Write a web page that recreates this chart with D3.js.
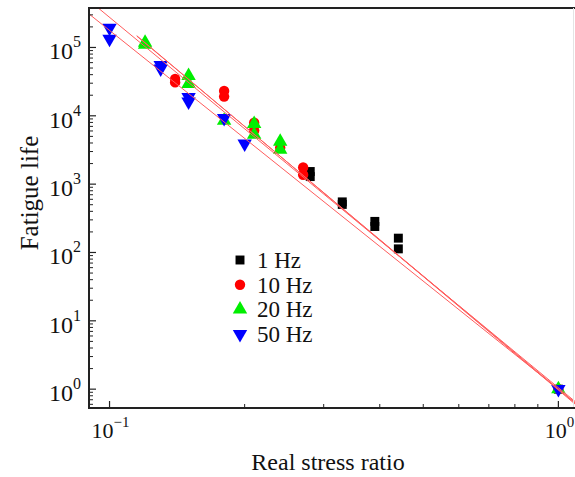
<!DOCTYPE html>
<html>
<head>
<meta charset="utf-8">
<script src="https://cdn.jsdelivr.net/npm/d3@7"></script>
<style>
  body { margin: 0; background: #fff; }
  text { font-family: "Liberation Serif", "Times New Roman", serif; fill: #111; }
</style>
</head>
<body>
<svg width="575" height="477"></svg>
<script>
// data
var stress1  = [0.28, 0.28, 0.33, 0.33, 0.39, 0.39, 0.44, 0.44, 1.0];
var life1    = [1530, 1290, 550, 505, 285, 240, 162, 113, 1.0];
var stress10 = [0.14, 0.14, 0.18, 0.18, 0.21, 0.21, 0.24, 0.27, 0.27, 1.0];
var life10   = [34700, 30800, 23100, 19100, 7900, 6100, 3400, 1750, 1370, 1.0];
var stress20 = [0.12, 0.12, 0.15, 0.15, 0.18, 0.21, 0.21, 0.24, 0.24, 1.0];
var life20   = [118000, 110000, 38300, 29300, 8500, 7600, 5300, 4200, 3200, 1.0];
var stress50 = [0.10, 0.10, 0.13, 0.13, 0.15, 0.15, 0.18, 0.20, 1.0];
var life50   = [193000, 133000, 55000, 49000, 18700, 16100, 9200, 3900, 1.0];

var seriesNames = ["1 Hz", "10 Hz", "20 Hz", "50 Hz"];
/* power law fits N = A * S^b, drawn from fitStart to the axis end */
var fitA     = [1.05, 1.0, 0.97, 1.0];
var fitB     = [-5.42, -5.5, -5.52, -5.25];
var fitStart = [0.09, 0.115, 0.115, 0.09];

var xTicks = [0.1, 1];
var xTickExp = ["\u22121", "0"];
var yTicks = [1, 10, 100, 1000, 1e4, 1e5];
var yTickExp = ["0", "1", "2", "3", "4", "5"];

var svg = d3.select("svg"),
    pL = 89, pR = 575, pT = 8, pB = 408;

var x = d3.scaleLog().domain([0.09, 1.089]).range([pL, pR]);
var y = d3.scaleLog().domain([0.53, 3.78e5]).range([pB, pT]);

var colors = ["#000000", "#ff0000", "#00ee00", "#0000ff"];
var symbols = [d3.symbolSquare, d3.symbolCircle, d3.symbolTriangle, d3.symbolTriangle];
var sizes = [80, 85, 90, 90];
var rot = [0, 0, 0, 180];

var series = [
  {s: stress1, n: life1},
  {s: stress10, n: life10},
  {s: stress20, n: life20},
  {s: stress50, n: life50}
];

svg.append("clipPath").attr("id", "plot")
  .append("rect").attr("x", pL).attr("y", pT)
  .attr("width", pR - pL).attr("height", pB - pT);

// points
series.forEach(function(d, k) {
  svg.append("g").selectAll("path")
    .data(d.s.map(function(v, i) { return [v, d.n[i]]; }))
    .enter().append("path")
      .attr("d", d3.symbol().type(symbols[k]).size(sizes[k]))
      .attr("transform", function(p) {
        return "translate(" + x(p[0]) + "," + y(p[1]) + ") rotate(" + rot[k] + ")";
      })
      .style("fill", colors[k]);
});

// fit lines
var line = d3.line().x(function(p) { return x(p[0]); }).y(function(p) { return y(p[1]); });
var gl = svg.append("g").attr("clip-path", "url(#plot)");
fitA.forEach(function(a, k) {
  var xs = [fitStart[k], 1.089];
  gl.append("path")
    .attr("d", line(xs.map(function(s) { return [s, a * Math.pow(s, fitB[k])]; })))
    .style("fill", "none")
    .style("stroke", "#ff5c5c")
    .style("stroke-width", 1);
});

// frame
svg.append("line").attr("x1", pL).attr("x2", pR).attr("y1", pT).attr("y2", pT)
  .style("stroke", "#222").style("stroke-width", 2);
svg.append("line").attr("x1", pR - 1.5).attr("x2", pR - 1.5).attr("y1", pT).attr("y2", pB)
  .style("stroke", "#e4e4e4").style("stroke-width", 1);

// y axis
var yAxis = svg.append("g").attr("transform", "translate(" + pL + ",0)");
var yMinor = [];
for (var e = -1; e <= 5; e++) for (var m = 2; m <= 9; m++) {
  var v = m * Math.pow(10, e);
  if (v > 0.53 && v < 3.78e5) yMinor.push(v);
}
yAxis.selectAll(".mn").data(yMinor).enter().append("line")
  .attr("x1", 0).attr("x2", 4).attr("y1", function(d) { return y(d); }).attr("y2", function(d) { return y(d); })
  .style("stroke", "#222").style("stroke-width", 1);
yAxis.selectAll(".mj").data(yTicks).enter().append("line")
  .attr("x1", 0).attr("x2", 7).attr("y1", function(d) { return y(d); }).attr("y2", function(d) { return y(d); })
  .style("stroke", "#222").style("stroke-width", 1.2);
yAxis.append("line").attr("y1", pT - 1).attr("y2", pB + 1)
  .style("stroke", "#222").style("stroke-width", 2);

var yl = yAxis.selectAll(".lab").data(yTicks).enter().append("text")
  .attr("text-anchor", "end")
  .attr("x", -8)
  .attr("y", function(d) { return y(d) + 12; })
  .style("font-size", "24px");
yl.append("tspan").text("10");
yl.append("tspan").attr("dy", -12).style("font-size", "16px")
  .text(function(d, i) { return yTickExp[i]; });

// x axis
var xAxis = svg.append("g").attr("transform", "translate(0," + pB + ")");
var xMinor = [0.2, 0.3, 0.4, 0.5, 0.6, 0.7, 0.8, 0.9];
xAxis.selectAll(".mn").data(xMinor).enter().append("line")
  .attr("x1", function(d) { return x(d); }).attr("x2", function(d) { return x(d); })
  .attr("y1", 0).attr("y2", -4)
  .style("stroke", "#222").style("stroke-width", 1);
xAxis.selectAll(".mj").data(xTicks).enter().append("line")
  .attr("x1", function(d) { return x(d); }).attr("x2", function(d) { return x(d); })
  .attr("y1", 0).attr("y2", -7)
  .style("stroke", "#222").style("stroke-width", 1.2);
xAxis.append("line").attr("x1", pL - 1).attr("x2", pR)
  .style("stroke", "#222").style("stroke-width", 2);

var xl = xAxis.selectAll(".lab").data(xTicks).enter().append("text")
  .attr("text-anchor", "middle")
  .attr("x", function(d) { return x(d) + 1; })
  .attr("y", 30)
  .style("font-size", "22px");
xl.append("tspan").text("10");
xl.append("tspan").attr("dy", -11).style("font-size", "15px")
  .text(function(d, i) { return xTickExp[i]; });

// titles
svg.append("text").attr("x", 328).attr("y", 470).attr("text-anchor", "middle")
  .style("font-size", "24px").text("Real stress ratio");
svg.append("text").attr("transform", "translate(38,193) rotate(-90)").attr("text-anchor", "middle")
  .style("font-size", "25px").text("Fatigue life");

// legend
var lg = svg.append("g").selectAll("g").data(seriesNames).enter().append("g")
  .attr("transform", function(d, i) { return "translate(240," + (260 + i * 24.7) + ")"; });
lg.append("path")
  .attr("d", function(d, i) { return d3.symbol().type(symbols[i]).size(sizes[i])(); })
  .attr("transform", function(d, i) { return "rotate(" + rot[i] + ")"; })
  .style("fill", function(d, i) { return colors[i]; });
lg.append("text").attr("x", 17).attr("y", 8)
  .style("font-size", "23px").text(function(d) { return d; });
</script>
</body>
</html>
